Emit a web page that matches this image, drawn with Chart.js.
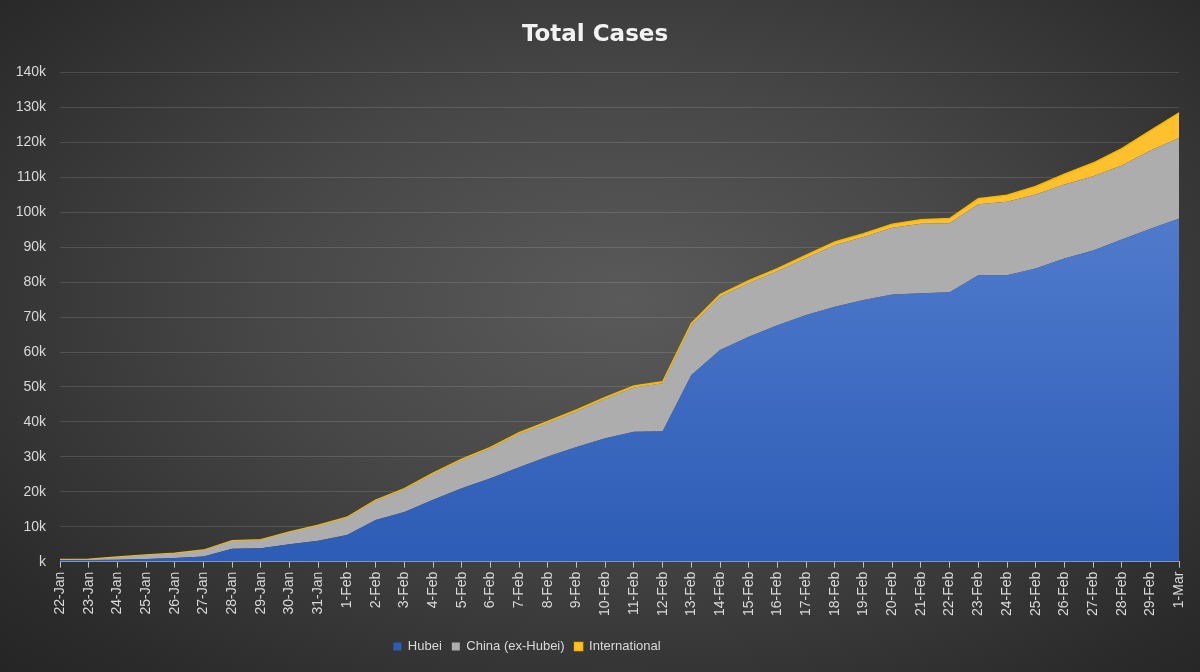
<!DOCTYPE html>
<html>
<head>
<meta charset="utf-8">
<title>Total Cases</title>
<script src="https://cdn.jsdelivr.net/npm/chart.js"></script>
<style>
    html, body { margin: 0; padding: 0; }
    body
    {
        width: 1200px;
        height: 672px;
        overflow: hidden;
        background: radial-gradient(ellipse 75% 80% at 52% 45%, #5a5a5a 0%, #474747 40%, #2b2b2b 85%, #242424 100%);
    }
    #chart_box { position: relative; width: 1200px; height: 672px; }
</style>
</head>
<body>
<div id="chart_box"><canvas id="area-chart"></canvas></div>
<script>
    // dates on the x axis
    var d_labels = ["22-Jan", "23-Jan", "24-Jan", "25-Jan", "26-Jan", "27-Jan", "28-Jan", "29-Jan", "30-Jan", "31-Jan",
        "1-Feb", "2-Feb", "3-Feb", "4-Feb", "5-Feb", "6-Feb", "7-Feb", "8-Feb", "9-Feb", "10-Feb",
        "11-Feb", "12-Feb", "13-Feb", "14-Feb", "15-Feb", "16-Feb", "17-Feb", "18-Feb", "19-Feb", "20-Feb",
        "21-Feb", "22-Feb", "23-Feb", "24-Feb", "25-Feb", "26-Feb", "27-Feb", "28-Feb", "29-Feb", "1-Mar"];

    // cumulative cases per group (stacked)
    var hubei = [444, 444, 549, 761, 1058, 1500, 3700, 3800, 5000, 6000,
        7600, 11900, 14200, 17700, 21000, 23900, 27000, 30100, 32800, 35300,
        37200, 37300, 53400, 60600, 64400, 67700, 70600, 73000, 74900, 76500,
        76800, 77100, 82000, 82000, 83900, 86800, 89100, 92200, 95300, 98200];

    var china_ex_hubei = [146, 246, 731, 1109, 1292, 1740, 2230, 2420, 3400, 4270,
        4950, 5540, 6530, 7400, 8070, 8540, 9600, 9680, 10250, 11300,
        12680, 13750, 14300, 15300, 15400, 15500, 16300, 17650, 18050, 19050,
        19950, 19800, 20300, 21000, 21200, 21200, 21200, 21200, 22400, 23100];

    var international = [10, 10, 20, 30, 50, 60, 70, 80, 100, 130,
        150, 160, 170, 200, 230, 260, 300, 320, 350, 400,
        420, 450, 500, 550, 600, 700, 800, 850, 950, 1050,
        1150, 1300, 1600, 1900, 2300, 2900, 3800, 4800, 5700, 7200];

    var y_ticks = [0, 10000, 20000, 30000, 40000, 50000, 60000, 70000, 80000, 90000, 100000, 110000, 120000, 130000, 140000];

    var txt_color = "#d9d9d9";
    var base_font = "'Liberation Sans', Arial, sans-serif";

    function hubei_fill(ctx)
    {
        var area = ctx.chart.chartArea;
        if (!area) return "#4472c4";
        var g = ctx.chart.ctx.createLinearGradient(0, area.top, 0, area.bottom);
        g.addColorStop(0, "#5f88d6");
        g.addColorStop(1, "#2d5cb6");
        return g;
    }

    // legend sits a bit left of centre in the original
    var shift_legend = {
        id: "shift_legend",
        afterLayout: function (chart)
        {
            if (chart.legend)
            {
                chart.legend.left -= 68;
                chart.legend.right -= 68;
            }
        }
    };

    var m_chart = new Chart(document.getElementById("area-chart"), {
        type: "line",
        data: {
            labels: d_labels,
            datasets: [
                {
                    label: "Hubei",
                    data: hubei,
                    backgroundColor: hubei_fill,
                    borderWidth: 0,
                    borderColor: "rgba(0,0,0,0)",
                    fill: "origin",
                    pointRadius: 0
                },
                {
                    label: "China (ex-Hubei)",
                    data: china_ex_hubei,
                    backgroundColor: "#adadad",
                    borderWidth: 0,
                    borderColor: "rgba(0,0,0,0)",
                    fill: "-1",
                    pointRadius: 0
                },
                {
                    label: "International",
                    data: international,
                    backgroundColor: "#ffc02e",
                    borderColor: "#f5b800",
                    borderWidth: 1.5,
                    fill: "-1",
                    pointRadius: 0
                }
            ]
        },
        plugins: [shift_legend],
        options: {
            responsive: true,
            maintainAspectRatio: false,
            animation: false,
            layout: { padding: { left: 10, right: 20, top: 17, bottom: 9 } },
            elements: { line: { tension: 0 } },
            plugins: {
                title: {
                    display: true,
                    text: "Total Cases",
                    color: "#f2f2f2",
                    font: { family: "'DejaVu Sans', sans-serif", size: 23, weight: "bold" },
                    padding: { top: 4, bottom: 24 }
                },
                legend: {
                    position: "bottom",
                    labels: {
                        color: txt_color,
                        boxWidth: 8,
                        boxHeight: 8,
                        padding: 10,
                        font: { family: base_font, size: 13 }
                    }
                },
                tooltip: { enabled: false }
            },
            scales: {
                x: {
                    afterFit: function (s) { s.height += 10; },
                    grid: {
                        display: true,
                        drawOnChartArea: false,
                        drawTicks: true,
                        tickLength: 6,
                        color: "#bfbfbf"
                    },
                    border: { display: true, color: "#bfbfbf", width: 1 },
                    ticks: {
                        color: txt_color,
                        minRotation: 90,
                        maxRotation: 90,
                        autoSkip: false,
                        padding: 4,
                        font: { family: base_font, size: 14 }
                    }
                },
                y: {
                    stacked: true,
                    min: 0,
                    max: 140000,
                    afterFit: function (s) { s.width = 50; },
                    afterBuildTicks: function (s) { s.ticks = y_ticks.map(function (v) { return { value: v }; }); },
                    grid: {
                        color: "rgba(255,255,255,0.13)",
                        lineWidth: 1,
                        drawTicks: false
                    },
                    border: { display: false },
                    ticks: {
                        color: txt_color,
                        padding: 14,
                        font: { family: base_font, size: 14 },
                        callback: function (v) { return (v === 0 ? "" : v / 1000) + "k"; }
                    }
                }
            }
        }
    });
</script>
</body>
</html>
